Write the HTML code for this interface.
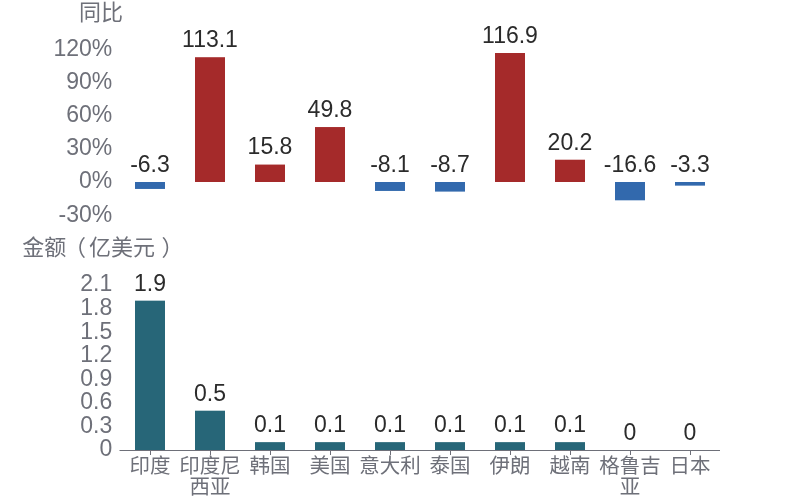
<!DOCTYPE html><html lang="zh-CN"><head><meta charset="utf-8"><title>同比 / 金额（亿美元）</title>
<style>html,body{margin:0;padding:0;background:#fff}body{width:800px;height:500px;overflow:hidden}svg{display:block}text{font-family:"Liberation Sans","Noto Sans CJK SC",sans-serif}.ax{fill:#6E7079;font-size:23px}.lb{fill:#2b2b2b;font-size:23px}.nm{fill:#6E7079;font-size:22px}.ct{fill:#6E7079;font-size:20.5px}</style></head><body>
<svg width="800" height="500" viewBox="0 0 800 500">
<text class="nm" x="78.9" y="20.3">同比</text>
<text class="nm" y="255"><tspan x="22.3">金额</tspan><tspan x="64">（</tspan><tspan x="88.9">亿美元</tspan><tspan x="161.5">）</tspan></text>
<text class="ax" x="112.3" y="56.0" text-anchor="end">120%</text>
<text class="ax" x="112.3" y="89.1" text-anchor="end">90%</text>
<text class="ax" x="112.3" y="122.2" text-anchor="end">60%</text>
<text class="ax" x="112.3" y="155.3" text-anchor="end">30%</text>
<text class="ax" x="112.3" y="188.4" text-anchor="end">0%</text>
<text class="ax" x="112.3" y="221.5" text-anchor="end">-30%</text>
<rect x="135.0" y="182.00" width="30" height="6.95" fill="#3269ad"/>
<text class="lb" x="150.0" y="171.8" text-anchor="middle">-6.3</text>
<rect x="195.0" y="57.21" width="30" height="124.79" fill="#a52a2a"/>
<text class="lb" x="210.0" y="47.0" text-anchor="middle">113.1</text>
<rect x="255.0" y="164.57" width="30" height="17.43" fill="#a52a2a"/>
<text class="lb" x="270.0" y="154.4" text-anchor="middle">15.8</text>
<rect x="315.0" y="127.05" width="30" height="54.95" fill="#a52a2a"/>
<text class="lb" x="330.0" y="116.9" text-anchor="middle">49.8</text>
<rect x="375.0" y="182.00" width="30" height="8.94" fill="#3269ad"/>
<text class="lb" x="390.0" y="171.8" text-anchor="middle">-8.1</text>
<rect x="435.0" y="182.00" width="30" height="9.60" fill="#3269ad"/>
<text class="lb" x="450.0" y="171.8" text-anchor="middle">-8.7</text>
<rect x="495.0" y="53.01" width="30" height="128.99" fill="#a52a2a"/>
<text class="lb" x="510.0" y="42.8" text-anchor="middle">116.9</text>
<rect x="555.0" y="159.71" width="30" height="22.29" fill="#a52a2a"/>
<text class="lb" x="570.0" y="149.5" text-anchor="middle">20.2</text>
<rect x="615.0" y="182.00" width="30" height="18.32" fill="#3269ad"/>
<text class="lb" x="630.0" y="171.8" text-anchor="middle">-16.6</text>
<rect x="675.0" y="182.00" width="30" height="3.64" fill="#3269ad"/>
<text class="lb" x="690.0" y="171.8" text-anchor="middle">-3.3</text>
<text class="ax" x="112.3" y="456.4" text-anchor="end">0</text>
<text class="ax" x="112.3" y="432.8" text-anchor="end">0.3</text>
<text class="ax" x="112.3" y="409.2" text-anchor="end">0.6</text>
<text class="ax" x="112.3" y="385.7" text-anchor="end">0.9</text>
<text class="ax" x="112.3" y="362.1" text-anchor="end">1.2</text>
<text class="ax" x="112.3" y="338.5" text-anchor="end">1.5</text>
<text class="ax" x="112.3" y="314.9" text-anchor="end">1.8</text>
<text class="ax" x="112.3" y="291.3" text-anchor="end">2.1</text>
<rect x="135.0" y="300.66" width="30" height="149.34" fill="#276678"/>
<text class="lb" x="150.0" y="290.5" text-anchor="middle">1.9</text>
<rect x="195.0" y="410.70" width="30" height="39.30" fill="#276678"/>
<text class="lb" x="210.0" y="400.5" text-anchor="middle">0.5</text>
<rect x="255.0" y="442.14" width="30" height="7.86" fill="#276678"/>
<text class="lb" x="270.0" y="431.9" text-anchor="middle">0.1</text>
<rect x="315.0" y="442.14" width="30" height="7.86" fill="#276678"/>
<text class="lb" x="330.0" y="431.9" text-anchor="middle">0.1</text>
<rect x="375.0" y="442.14" width="30" height="7.86" fill="#276678"/>
<text class="lb" x="390.0" y="431.9" text-anchor="middle">0.1</text>
<rect x="435.0" y="442.14" width="30" height="7.86" fill="#276678"/>
<text class="lb" x="450.0" y="431.9" text-anchor="middle">0.1</text>
<rect x="495.0" y="442.14" width="30" height="7.86" fill="#276678"/>
<text class="lb" x="510.0" y="431.9" text-anchor="middle">0.1</text>
<rect x="555.0" y="442.14" width="30" height="7.86" fill="#276678"/>
<text class="lb" x="570.0" y="431.9" text-anchor="middle">0.1</text>
<rect x="615.0" y="450.00" width="30" height="0.00" fill="#276678"/>
<text class="lb" x="630.0" y="439.8" text-anchor="middle">0</text>
<rect x="675.0" y="450.00" width="30" height="0.00" fill="#276678"/>
<text class="lb" x="690.0" y="439.8" text-anchor="middle">0</text>
<path d="M119.5 450.5H720" stroke="#6E7079" stroke-width="1" fill="none"/>
<path d="M150.5 450V455" stroke="#6E7079" stroke-width="1" fill="none"/>
<path d="M210.5 450V455" stroke="#6E7079" stroke-width="1" fill="none"/>
<path d="M270.5 450V455" stroke="#6E7079" stroke-width="1" fill="none"/>
<path d="M330.5 450V455" stroke="#6E7079" stroke-width="1" fill="none"/>
<path d="M390.5 450V455" stroke="#6E7079" stroke-width="1" fill="none"/>
<path d="M450.5 450V455" stroke="#6E7079" stroke-width="1" fill="none"/>
<path d="M510.5 450V455" stroke="#6E7079" stroke-width="1" fill="none"/>
<path d="M570.5 450V455" stroke="#6E7079" stroke-width="1" fill="none"/>
<path d="M630.5 450V455" stroke="#6E7079" stroke-width="1" fill="none"/>
<path d="M690.5 450V455" stroke="#6E7079" stroke-width="1" fill="none"/>
<text class="ct" x="150.0" y="473.4" text-anchor="middle">印度</text>
<text class="ct" x="210.0" y="473.4" text-anchor="middle">印度尼</text>
<text class="ct" x="210.0" y="493.5" text-anchor="middle">西亚</text>
<text class="ct" x="270.0" y="473.4" text-anchor="middle">韩国</text>
<text class="ct" x="330.0" y="473.4" text-anchor="middle">美国</text>
<text class="ct" x="390.0" y="473.4" text-anchor="middle">意大利</text>
<text class="ct" x="450.0" y="473.4" text-anchor="middle">泰国</text>
<text class="ct" x="510.0" y="473.4" text-anchor="middle">伊朗</text>
<text class="ct" x="570.0" y="473.4" text-anchor="middle">越南</text>
<text class="ct" x="630.0" y="473.4" text-anchor="middle">格鲁吉</text>
<text class="ct" x="630.0" y="493.5" text-anchor="middle">亚</text>
<text class="ct" x="690.0" y="473.4" text-anchor="middle">日本</text>
</svg></body></html>
